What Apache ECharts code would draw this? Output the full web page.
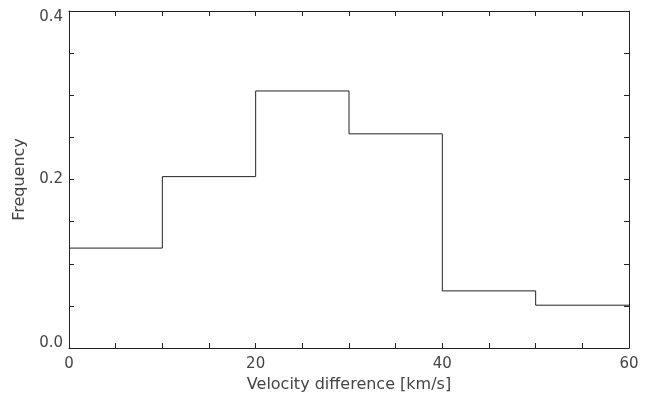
<!DOCTYPE html>
<html>
<head>
<meta charset="utf-8">
<script src="https://cdn.jsdelivr.net/npm/echarts@6/dist/echarts.min.js"></script>
<style>
  html, body { margin: 0; padding: 0; background: #fff; }
  #chart { width: 665px; height: 397px; }
</style>
</head>
<body>
<div id="chart"></div>
<script>
// bin edges (km/s) and frequency per bin
const binEdges = [0, 10, 20, 30, 40, 50, 60];
const frequency = [0.1186, 0.2034, 0.3051, 0.2542, 0.0678, 0.0508];

const stepData = binEdges.map((x, i) => [x, frequency[Math.min(i, frequency.length - 1)]]);

const axisColor = '#222';
const labelColor = '#444';
const font = 'DejaVu Sans';

const chart = echarts.init(document.getElementById('chart'));

const isMultiple = (v, step) => Math.abs(v / step - Math.round(v / step)) < 1e-6;

// end labels on the y axis sit a little inside the frame, like the original
const yLabel = v => {
  if (!isMultiple(v, 0.2)) return '';
  const s = v.toFixed(1);
  if (v < 1e-6) return '{bot|' + s + '}';
  if (v > 0.4 - 1e-6) return '{top|' + s + '}';
  return s;
};

const option = {
  animation: false,
  grid: { left: 69, right: 36, top: 11, bottom: 49, outerBoundsMode: 'none', containLabel: false },
  xAxis: [
    {
      type: 'value',
      min: 0,
      max: 60,
      interval: 5,
      name: 'Velocity difference [km/s]',
      nameLocation: 'middle',
      nameGap: 29,
      nameTextStyle: { color: labelColor, fontFamily: font, fontSize: 16 },
      axisLine: { onZero: false, lineStyle: { color: axisColor, width: 1 } },
      axisTick: { inside: true, length: 5, lineStyle: { color: axisColor } },
      axisLabel: {
        color: labelColor, fontFamily: font, fontSize: 15, margin: 9,
        formatter: v => isMultiple(v, 20) ? String(v) : ''
      },
      splitLine: { show: false }
    },
    {
      type: 'value',
      position: 'top',
      min: 0,
      max: 60,
      interval: 5,
      axisLine: { onZero: false, lineStyle: { color: axisColor, width: 1 } },
      axisTick: { inside: true, length: 5, lineStyle: { color: axisColor } },
      axisLabel: { show: false },
      splitLine: { show: false }
    }
  ],
  yAxis: [
    {
      type: 'value',
      min: 0,
      max: 0.4,
      interval: 0.05,
      name: 'Frequency',
      nameLocation: 'middle',
      nameGap: 41,
      nameTextStyle: { color: labelColor, fontFamily: font, fontSize: 16 },
      axisLine: { show: true, onZero: false, lineStyle: { color: axisColor, width: 1 } },
      axisTick: { show: true, inside: true, length: 5, lineStyle: { color: axisColor } },
      axisLabel: {
        color: labelColor, fontFamily: font, fontSize: 15, margin: 6,
        formatter: yLabel,
        rich: {
          top: { color: labelColor, fontFamily: font, fontSize: 15, padding: [12, 0, 0, 0] },
          bot: { color: labelColor, fontFamily: font, fontSize: 15, padding: [0, 0, 10, 0] }
        }
      },
      splitLine: { show: false }
    },
    {
      type: 'value',
      position: 'right',
      min: 0,
      max: 0.4,
      interval: 0.05,
      axisLine: { show: true, onZero: false, lineStyle: { color: axisColor, width: 1 } },
      axisTick: { show: true, inside: true, length: 5, lineStyle: { color: axisColor } },
      axisLabel: { show: false },
      splitLine: { show: false }
    }
  ],
  series: [
    {
      type: 'line',
      step: 'end',
      data: stepData,
      symbol: 'none',
      lineStyle: { color: axisColor, width: 1 }
    }
  ]
};

chart.setOption(option);
</script>
</body>
</html>
